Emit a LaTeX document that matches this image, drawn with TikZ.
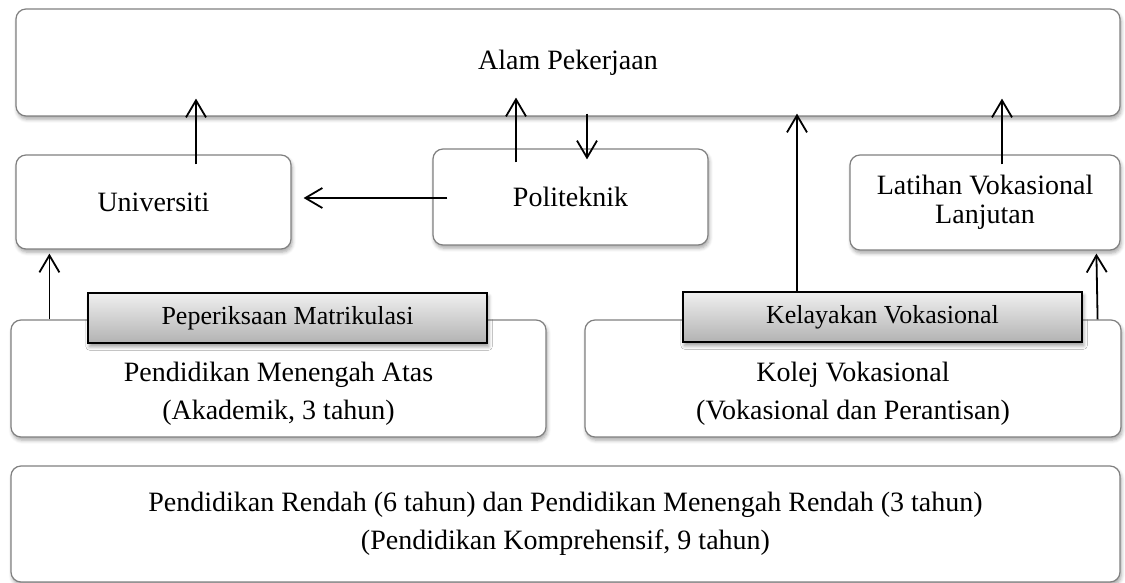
\documentclass[tikz,border=0pt]{standalone}
\usepackage{fontspec}
\setmainfont{Liberation Serif}
\usetikzlibrary{arrows.meta,calc,shadows.blur}
\begin{document}
\begin{tikzpicture}[x=0.5pt,y=-0.5pt,
  box/.style={draw=black!50,line width=0.6pt,rounded corners=5pt,fill=white,
    blur shadow={shadow xshift=0.6pt,shadow yshift=-1.6pt,shadow blur steps=5,shadow opacity=35},
    inner sep=0pt,font=\fontsize{14}{19}\selectfont,align=center},
  graybox/.style={draw=black,line width=0.9pt,top color=black!6,bottom color=black!30,
    blur shadow={shadow xshift=0.8pt,shadow yshift=-1.8pt,shadow blur steps=5,shadow opacity=40},
    inner sep=0pt,font=\fontsize{13}{16}\selectfont},
  txt/.style={font=\fontsize{14}{19}\selectfont,align=center,inner sep=0pt},
  arr/.style={line width=0.9pt,-{Straight Barb[length=8.5pt,width=10pt,line width=0.9pt]}}]
\useasboundingbox (0,0) rectangle (1125,583);

% top level (sizes in pt, positions in half-points)
\node[box,minimum width=552pt,minimum height=53.5pt] (work) at (568,62.5) {Alam Pekerjaan};

% tertiary level
\node[box,minimum width=137.5pt,minimum height=47pt] (uni) at (153.5,202) {Universiti};
\node[box,minimum width=137.5pt,minimum height=48pt] (poli) at (570.5,197) {Politeknik};
\node[box,minimum width=135pt,minimum height=47.5pt,font=\fontsize{14}{14.5}\selectfont] (lat) at (985,202.5) {Latihan Vokasional\\Lanjutan};

% upper secondary level
\node[box,minimum width=267.5pt,minimum height=58.5pt] (atas) at (278.5,378.5) {};
\node[txt] (atast) at (278.5,394) {Pendidikan Menengah Atas\\(Akademik, 3 tahun)};
\node[box,minimum width=268pt,minimum height=58.5pt] (kolej) at (853,378.5) {};
\node[txt] (kolejt) at (853,394) {Kolej Vokasional\\(Vokasional dan Perantisan)};

% qualification labels
\node[graybox,minimum width=199.5pt,minimum height=25pt] (matrik) at (287.5,318) {Peperiksaan Matrikulasi};
\node[graybox,minimum width=199.5pt,minimum height=25pt] (layak) at (882.5,317) {Kelayakan Vokasional};

% basic level
\node[box,minimum width=554.5pt,minimum height=58pt] (rendah) at (565.5,524) {Pendidikan Rendah (6 tahun) dan Pendidikan Menengah Rendah (3 tahun)\\(Pendidikan Komprehensif, 9 tahun)};

% pathways
\draw[arr] ($(uni.north)+(42.5,10)$) -- ($(work.south)+(-372,-18)$);
\draw[arr] ($(poli.north)+(-54.5,14)$) -- ($(work.south)+(-52,-19)$);
\draw[arr] ($(work.south)+(19,-3)$) -- ($(poli.north)+(16.5,11)$);
\draw[arr] ($(poli.west)+(15,1)$) -- ($(uni.east)+(12,-4)$);
\draw[arr] ($(lat.north)+(17,10)$) -- ($(work.south)+(434,-18)$);
\draw[arr] ($(atas.north west)+(39,0)$) -- ($(uni.south west)+(34,4)$);
\draw[arr] ($(layak.north)+(-85.5,0)$) -- ($(work.south)+(229,-3)$);
\draw[arr] ($(kolej.north east)+(-24,0)$) -- ($(lat.south west)+(247,3)$);
\end{tikzpicture}
\end{document}
